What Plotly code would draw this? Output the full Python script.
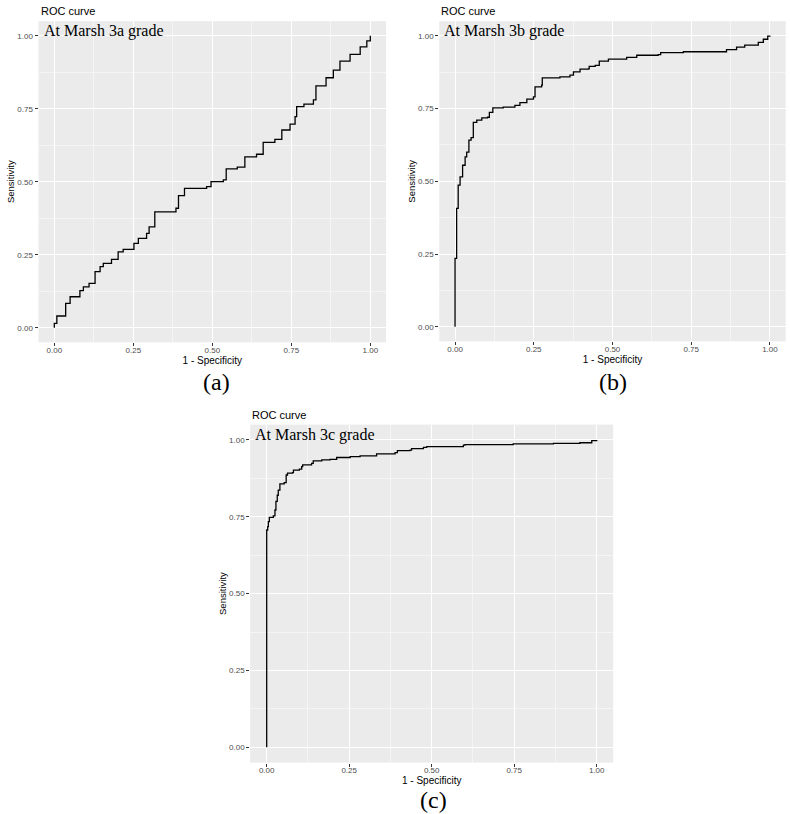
import plotly.graph_objects as go

# ---- data (1 - specificity, sensitivity) ----
a_fpr = [0.0, 0.0, 0.008, 0.036, 0.05, 0.081, 0.092, 0.11, 0.129, 0.145, 0.155, 0.181, 0.202,
         0.218, 0.252, 0.266, 0.292, 0.3, 0.318, 0.385, 0.393, 0.412, 0.482, 0.496, 0.535,
         0.544, 0.579, 0.603, 0.64, 0.661, 0.698, 0.72, 0.746, 0.762, 0.767, 0.79, 0.82,
         0.828, 0.86, 0.883, 0.904, 0.936, 0.968, 0.989, 1.0]
a_tpr = [0.0, 0.015, 0.04, 0.083, 0.106, 0.127, 0.14, 0.152, 0.192, 0.209, 0.22, 0.234, 0.26,
         0.268, 0.289, 0.306, 0.323, 0.345, 0.397, 0.409, 0.452, 0.477, 0.483, 0.5, 0.506,
         0.544, 0.55, 0.585, 0.594, 0.635, 0.645, 0.677, 0.697, 0.723, 0.757, 0.766, 0.78,
         0.828, 0.856, 0.882, 0.913, 0.936, 0.962, 0.982, 1.0]

b_fpr = [0.0, 0.0, 0.005, 0.01, 0.016, 0.024, 0.032, 0.037, 0.044, 0.051, 0.058, 0.069, 0.085,
         0.103, 0.109, 0.12, 0.153, 0.19, 0.206, 0.228, 0.249, 0.254, 0.275, 0.277, 0.333,
         0.365, 0.376, 0.397, 0.423, 0.426, 0.445, 0.458, 0.487, 0.545, 0.577, 0.645, 0.653,
         0.725, 0.82, 0.862, 0.894, 0.92, 0.963, 0.979, 0.993, 1.0]
b_tpr = [0.0, 0.235, 0.407, 0.487, 0.515, 0.555, 0.584, 0.6, 0.641, 0.65, 0.702, 0.71, 0.718,
         0.72, 0.737, 0.752, 0.755, 0.761, 0.77, 0.782, 0.79, 0.824, 0.83, 0.855, 0.859,
         0.865, 0.876, 0.885, 0.886, 0.895, 0.898, 0.913, 0.92, 0.926, 0.933, 0.935, 0.942,
         0.945, 0.945, 0.952, 0.961, 0.968, 0.977, 0.988, 0.999, 1.0]

c_fpr = [0.0, 0.0, 0.003, 0.005, 0.008, 0.02, 0.025, 0.028, 0.032, 0.035, 0.04, 0.053, 0.059,
         0.063, 0.078, 0.081, 0.099, 0.106, 0.109, 0.136, 0.141, 0.167, 0.192, 0.212, 0.253,
         0.283, 0.333, 0.389, 0.396, 0.434, 0.439, 0.475, 0.485, 0.596, 0.601, 0.747, 0.869,
         0.949, 0.985, 1.0]
c_tpr = [0.0, 0.707, 0.718, 0.734, 0.748, 0.753, 0.772, 0.8, 0.82, 0.837, 0.857, 0.861, 0.886,
         0.892, 0.894, 0.902, 0.905, 0.913, 0.919, 0.924, 0.932, 0.935, 0.937, 0.943, 0.946,
         0.948, 0.955, 0.959, 0.965, 0.967, 0.972, 0.976, 0.978, 0.983, 0.985, 0.987, 0.989,
         0.991, 0.998, 1.0]

tick_vals = [0.0, 0.25, 0.5, 0.75, 1.0]
tick_text = ["0.00", "0.25", "0.50", "0.75", "1.00"]
panel_titles = ["At Marsh 3a grade", "At Marsh 3b grade", "At Marsh 3c grade"]
panel_letters = ["(a)", "(b)", "(c)"]

W, H = 790, 814

def px_x(v):
    return v / W

def px_y(v):
    return 1 - v / H

# plot-area pixel boxes (left, right, top, bottom)
boxes = [(38.5, 386.1, 21.1, 342.3), (439.3, 785.7, 21.2, 341.3), (250.2, 613.2, 424.6, 762.6)]

fig = go.Figure()
series = [(a_fpr, a_tpr), (b_fpr, b_tpr), (c_fpr, c_tpr)]
for i, (xs, ys) in enumerate(series):
    sfx = "" if i == 0 else str(i + 1)
    fig.add_trace(go.Scatter(x=xs, y=ys, mode="lines", line=dict(color="black", width=1.3, shape="hv"),
                             xaxis="x" + sfx, yaxis="y" + sfx, showlegend=False, hoverinfo="x+y"))

axis_common = dict(range=[-0.05, 1.05], tickvals=tick_vals, ticktext=tick_text, ticks="outside",
                   ticklen=3, tickwidth=1, tickcolor="#333333", showgrid=True, gridcolor="white",
                   gridwidth=1.1, zeroline=False, showline=False,
                   tickfont=dict(family="Liberation Sans, Arial", size=8, color="#4D4D4D"),
                   minor=dict(dtick=0.125, tick0=0, showgrid=True, gridcolor="#F5F5F5", gridwidth=0.6, ticks=""))

layout = dict(width=W, height=H, margin=dict(l=0, r=0, t=0, b=0), paper_bgcolor="white",
              plot_bgcolor="#EBEBEB", showlegend=False)
annotations = []
for i, (l, r, t, b) in enumerate(boxes):
    sfx = "" if i == 0 else str(i + 1)
    xa = dict(axis_common)
    xa.update(domain=[px_x(l), px_x(r)], anchor="y" + sfx, ticklabelstandoff=-3,
              title=dict(text="1 - Specificity", standoff=0,
                         font=dict(family="Liberation Sans, Arial", size=10, color="black")))
    ya = dict(axis_common)
    ya.update(domain=[px_y(b), px_y(t)], anchor="x" + sfx,
              title=dict(text="Sensitivity", standoff=0,
                         font=dict(family="Liberation Sans, Arial", size=9.5, color="black")))
    layout["xaxis" + sfx] = xa
    layout["yaxis" + sfx] = ya
    annotations.append(dict(text="ROC curve", xref="paper", yref="paper", x=px_x(l), y=px_y(t - 10),
                            xanchor="left", yanchor="middle", showarrow=False,
                            font=dict(family="Liberation Sans, Arial", size=11, color="black")))
    annotations.append(dict(text=panel_titles[i], xref="paper", yref="paper", x=px_x(l + 3), y=px_y(t + 10),
                            xanchor="left", yanchor="middle", showarrow=False,
                            font=dict(family="Liberation Serif, Times New Roman", size=16, color="black")))

letter_pos = [(216, 382), (613, 382), (433, 800)]
for i, (x, y) in enumerate(letter_pos):
    annotations.append(dict(text=panel_letters[i], xref="paper", yref="paper", x=px_x(x), y=px_y(y),
                            xanchor="center", yanchor="middle", showarrow=False,
                            font=dict(family="Liberation Serif, Times New Roman", size=24, color="black")))

layout["annotations"] = annotations
fig.update_layout(**layout)
# remove the default 8px body margin so the figure fills the window exactly
fig.write_html("out.html", config={"displayModeBar": False},
               post_script="document.body.style.margin='0';document.body.style.overflow='hidden';")
